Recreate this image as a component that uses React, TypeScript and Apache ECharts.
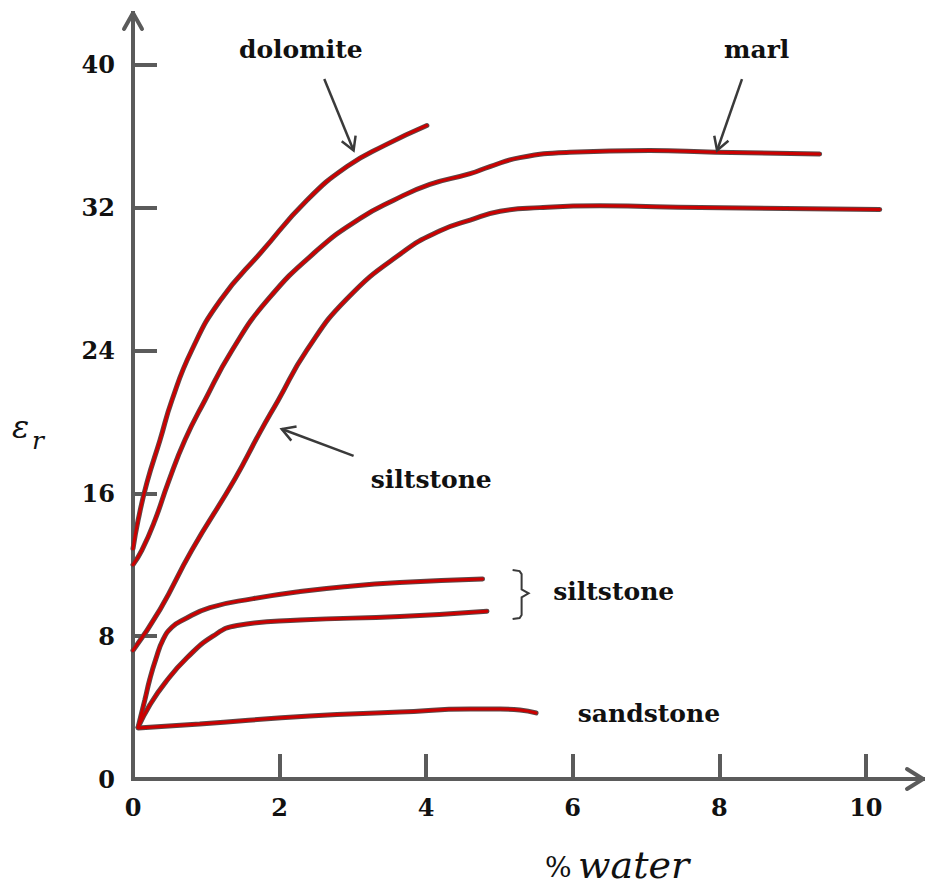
import React, { useEffect, useRef } from "react";
import * as echarts from "echarts";

// ---- data ----
const dolomiteX = [0, 0.07, 0.19, 0.37, 0.53, 0.8, 1.19, 1.77, 2.37, 2.92, 3.44, 4.01];
const dolomiteY = [12.9, 14.5, 16.6, 19.0, 21.2, 24.0, 26.8, 29.6, 32.4, 34.3, 35.5, 36.6];

const marlX = [0, 0.12, 0.3, 0.48, 0.71, 0.98, 1.35, 1.83, 2.51, 3.1, 3.55, 4.05, 4.6, 4.87, 5.28, 5.96, 7.05, 7.95, 9.37];
const marlY = [12.0, 12.8, 14.5, 16.6, 19.0, 21.2, 24.0, 26.8, 29.6, 31.4, 32.4, 33.3, 33.9, 34.3, 34.8, 35.1, 35.2, 35.1, 35.0];

const siltBigX = [0, 0.37, 0.8, 1.39, 1.73, 1.98, 2.37, 2.92, 3.68, 4.19, 4.6, 5.01, 5.55, 6.37, 7.74, 10.19];
const siltBigY = [7.2, 9.5, 12.8, 16.8, 19.4, 21.2, 24.0, 26.9, 29.5, 30.7, 31.3, 31.8, 32.0, 32.1, 32.0, 31.9];

const siltAX = [0.07, 0.16, 0.23, 0.31, 0.41, 0.53, 0.68, 1.05, 1.64, 2.28, 2.96, 3.64, 4.77];
const siltAY = [2.9, 4.4, 5.6, 6.7, 7.8, 8.5, 8.9, 9.6, 10.1, 10.5, 10.8, 11.0, 11.2];

const siltBX = [0.07, 0.23, 0.44, 0.74, 1.09, 1.42, 2.28, 3.64, 4.83];
const siltBY = [2.9, 4.15, 5.4, 6.8, 8.0, 8.6, 8.9, 9.1, 9.4];

const sandX = [0.07, 0.91, 2.41, 3.64, 4.6, 5.01, 5.28, 5.5];
const sandY = [2.86, 3.08, 3.53, 3.75, 3.92, 3.92, 3.87, 3.7];

const xTicks = [0, 2, 4, 6, 8, 10];
const yTicks = [0, 8, 16, 24, 32, 40];
const xMax = 10.78;
const yMax = 42.9;

// annotations
const labelNames = ["dolomite", "marl", "siltstone", "siltstone", "sandstone"];
const labelX = [2.29, 8.51, 4.07, 6.56, 7.04];
const labelY = [40.85, 40.85, 16.75, 10.5, 3.65];

const arrowStartX = [2.61, 8.31, 3.01];
const arrowStartY = [39.2, 39.2, 18.1];
const arrowTipX = [3.01, 7.97, 2.03];
const arrowTipY = [35.2, 35.2, 19.6];

const bracketX = 5.18;
const bracketTop = 11.7;
const bracketMid = 10.4;
const bracketBottom = 8.96;

const zip = (xs: number[], ys: number[]) => xs.map((x, i) => [x, ys[i]]);

const curves = [
  zip(dolomiteX, dolomiteY),
  zip(marlX, marlY),
  zip(siltBigX, siltBigY),
  zip(siltAX, siltAY),
  zip(siltBX, siltBY),
  zip(sandX, sandY),
];

const AXIS = "#5b5b5b";
const ANNO = "#3a3a3a";
const RED = "#cc0000";
const OUTLINE = "#5a4a4a";
const SERIF = '"DejaVu Serif", serif';

export default function App() {
  const ref = useRef<HTMLDivElement>(null);
  useEffect(() => {
    if (!ref.current) return;
    const chart = echarts.init(ref.current, undefined, { renderer: "svg" });

    const lineSeries: any[] = [];
    curves.forEach((d, i) => {
      lineSeries.push({
        type: "line",
        name: "outline" + i,
        data: d,
        showSymbol: false,
        smooth: 0.5,
        lineStyle: { color: OUTLINE, width: 5, cap: "round" },
        z: 2,
        silent: true,
      });
      lineSeries.push({
        type: "line",
        name: "curve" + i,
        data: d,
        showSymbol: false,
        smooth: 0.5,
        lineStyle: { color: RED, width: 3, cap: "round" },
        z: 3,
        silent: true,
      });
    });

    const annoSeries = {
      type: "custom",
      clip: false,
      silent: true,
      z: 5,
      data: [[0, 0]],
      renderItem: (_p: any, api: any) => {
        const children: any[] = [];
        // annotation arrows
        for (let i = 0; i < arrowStartX.length; i++) {
          const a = api.coord([arrowStartX[i], arrowStartY[i]]);
          const b = api.coord([arrowTipX[i], arrowTipY[i]]);
          const dx = a[0] - b[0];
          const dy = a[1] - b[1];
          const L = Math.hypot(dx, dy);
          const ux = dx / L;
          const uy = dy / L;
          const len = 15;
          const ang = (30 * Math.PI) / 180;
          const c = Math.cos(ang);
          const s = Math.sin(ang);
          const r1 = [b[0] + len * (ux * c - uy * s), b[1] + len * (ux * s + uy * c)];
          const r2 = [b[0] + len * (ux * c + uy * s), b[1] + len * (-ux * s + uy * c)];
          children.push({
            type: "line",
            shape: { x1: a[0], y1: a[1], x2: b[0], y2: b[1] },
            style: { stroke: ANNO, lineWidth: 2.5 },
          });
          children.push({
            type: "polyline",
            shape: { points: [r1, b, r2] },
            style: { stroke: ANNO, lineWidth: 2.5, fill: null, lineJoin: "miter" },
          });
        }
        // bracket
        const t = api.coord([bracketX, bracketTop]);
        const m = api.coord([bracketX, bracketMid]);
        const bt = api.coord([bracketX, bracketBottom]);
        const px = t[0];
        children.push({
          type: "polyline",
          shape: {
            points: [
              [px, t[1]],
              [px + 7, t[1] + 1],
              [px + 9, t[1] + 4],
              [px + 9, m[1] - 4],
              [px + 16, m[1]],
              [px + 9, m[1] + 4],
              [px + 9, bt[1] - 4],
              [px + 7, bt[1] - 1],
              [px, bt[1]],
            ],
          },
          style: { stroke: ANNO, lineWidth: 2, fill: null },
        });
        // axis arrowheads
        const xt = api.coord([xMax, 0]);
        children.push({
          type: "polyline",
          shape: { points: [[xt[0] - 16, xt[1] - 10], [xt[0], xt[1]], [xt[0] - 16, xt[1] + 10]] },
          style: { stroke: AXIS, lineWidth: 4, fill: null, lineCap: "round", lineJoin: "round" },
        });
        const yt = api.coord([0, yMax]);
        children.push({
          type: "polyline",
          shape: { points: [[yt[0] - 9, yt[1] + 16], [yt[0], yt[1]], [yt[0] + 9, yt[1] + 16]] },
          style: { stroke: AXIS, lineWidth: 4, fill: null, lineCap: "round", lineJoin: "round" },
        });
        // labels
        for (let i = 0; i < labelNames.length; i++) {
          const p = api.coord([labelX[i], labelY[i]]);
          children.push({
            type: "text",
            x: p[0],
            y: p[1],
            style: {
              text: labelNames[i],
              fill: "#111",
              font: `bold 25px ${SERIF}`,
              textAlign: "center",
              textVerticalAlign: "middle",
              align: "center",
              verticalAlign: "middle",
            },
          });
        }
        return { type: "group", children };
      },
    };

    const axisLabelStyle = {
      fontFamily: SERIF,
      fontWeight: "bold",
      fontSize: 24,
      color: "#111",
    };

    chart.setOption({
      animation: false,
      grid: { left: 133, right: 3, top: 13, bottom: 108, containLabel: false },
      xAxis: {
        type: "value",
        min: 0,
        max: xMax,
        interval: 2,
        axisLine: { show: true, onZero: false, lineStyle: { color: AXIS, width: 4, cap: "square" } },
        axisTick: {
          show: true,
          inside: true,
          length: 25,
          customValues: [2, 4, 6, 8, 10],
          lineStyle: { color: AXIS, width: 4 },
        },
        axisLabel: { ...axisLabelStyle, customValues: xTicks, margin: 16 },
        splitLine: { show: false },
      },
      yAxis: {
        type: "value",
        min: 0,
        max: yMax,
        interval: 8,
        axisLine: { show: true, onZero: false, lineStyle: { color: AXIS, width: 4, cap: "square" } },
        axisTick: {
          show: true,
          inside: true,
          length: 24,
          customValues: [8, 16, 24, 32, 40],
          lineStyle: { color: AXIS, width: 4 },
        },
        axisLabel: { ...axisLabelStyle, customValues: yTicks, margin: 18 },
        splitLine: { show: false },
      },
      graphic: [
        {
          type: "text",
          left: 12,
          top: 411,
          style: { text: "ε", font: `italic 32px ${SERIF}`, fill: "#111" },
        },
        {
          type: "text",
          left: 32,
          top: 428,
          style: { text: "r", font: `italic 25px ${SERIF}`, fill: "#111" },
        },
        {
          type: "text",
          left: 545,
          top: 853,
          style: { text: "%", font: `28px ${SERIF}`, fill: "#111" },
        },
        {
          type: "text",
          left: 578,
          top: 846,
          style: { text: "water", font: `italic 38px ${SERIF}`, fill: "#111" },
        },
      ],
      series: [...lineSeries, annoSeries],
    });

    return () => chart.dispose();
  }, []);

  return (
    <div
      ref={ref}
      style={{ position: "fixed", left: 0, top: 0, width: 926, height: 887, background: "#fff" }}
    />
  );
}
